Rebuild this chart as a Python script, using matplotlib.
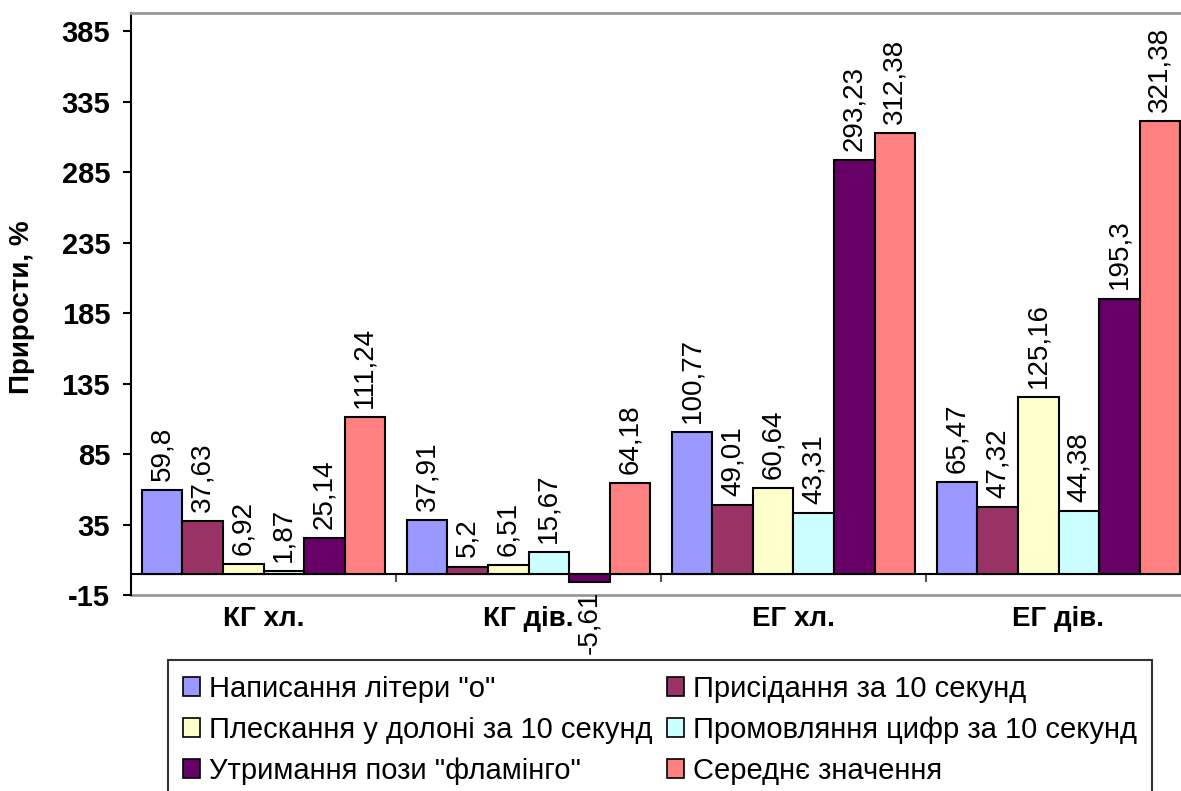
import matplotlib
matplotlib.use("Agg")
import matplotlib.pyplot as plt
from matplotlib.lines import Line2D
import numpy as np

plt.rcParams['font.family'] = ['Liberation Sans', 'DejaVu Sans']

categories = ["КГ хл.", "КГ дів.", "ЕГ хл.", "ЕГ дів."]
series_names = ['Написання літери "о"', 'Присідання за 10 секунд',
                'Плескання у долоні за 10 секунд', 'Промовляння цифр за 10 секунд',
                'Утримання пози "фламінго"', 'Середнє значення']
s_letter = [59.8, 37.91, 100.77, 65.47]
s_squat = [37.63, 5.2, 49.01, 47.32]
s_clap = [6.92, 6.51, 60.64, 125.16]
s_digits = [1.87, 15.67, 43.31, 44.38]
s_flamingo = [25.14, -5.61, 293.23, 195.3]
s_mean = [111.24, 64.18, 312.38, 321.38]
series = [s_letter, s_squat, s_clap, s_digits, s_flamingo, s_mean]
colors = ["#9999FF", "#993366", "#FFFFCC", "#CCFFFF", "#660066", "#FF8080"]
yticks = [-15, 35, 85, 135, 185, 235, 285, 335, 385]

W, H = 1181, 791
fig = plt.figure(figsize=(W / 100, H / 100), dpi=100)
left, right, top, bottom = 131, 1191, 13, 595
ax = fig.add_axes([left / W, 1 - bottom / H, (right - left) / W, (bottom - top) / H])

x = np.arange(len(categories))
bw = 0.153
handles = []
for i, (vals, c, name) in enumerate(zip(series, colors, series_names)):
    xs = x + (i - 2.5) * bw
    bars = ax.bar(xs, vals, bw, color=c, edgecolor="black", linewidth=1.5, label=name, zorder=3)
    handles.append(bars)
    for xi, v in zip(xs, vals):
        txt = f"{v:g}".replace(".", ",")
        if v >= 0:
            ax.annotate(txt, (xi, v), xytext=(0, 6.5), textcoords="offset points",
                        rotation=90, ha="center", va="bottom", fontsize=20)
        else:
            ax.annotate(txt, (xi, v), xytext=(0, -6.5), textcoords="offset points",
                        rotation=90, ha="center", va="top", fontsize=20)

ax.set_xlim(-0.5, 3.5)
ax.set_ylim(-15, 397.8)
ax.set_yticks(yticks)
ax.set_yticklabels([str(t) for t in yticks], fontsize=21, fontweight="bold")
ax.tick_params(axis="y", direction="out", length=6, width=1.5, pad=9)

# x axis at zero
ax.spines["bottom"].set_position(("data", 0))
ax.spines["bottom"].set_color("black")
ax.spines["bottom"].set_linewidth(1.5)
ax.set_xticks(x)
ax.set_xticklabels(categories, fontsize=20, fontweight="bold")
ax.set_xticks(np.arange(len(categories) + 1) - 0.5, minor=True)
ax.tick_params(axis="x", which="major", length=0, pad=23)
ax.tick_params(axis="x", which="minor", direction="out", length=6, width=1.5, color="#555555")

ax.spines["left"].set_linewidth(1.5)
ax.spines["top"].set_color("#999999")
ax.spines["top"].set_linewidth(2)
ax.spines["right"].set_visible(False)
ax.add_line(Line2D([0, 1], [0, 0], transform=ax.transAxes, color="#999999", lw=2, clip_on=False))

fig.text(22 / W, 1 - 307 / H, "Прирости, %", rotation=90, ha="center", va="center",
         fontsize=20, fontweight="bold")

order = [0, 2, 4, 1, 3, 5]
leg = fig.legend([handles[k] for k in order], [series_names[k] for k in order],
                 loc="upper left", bbox_to_anchor=(168 / W, 1 - 660 / H), ncol=2,
                 fontsize=21, frameon=True, fancybox=False, borderpad=0.5,
                 labelspacing=0.45, handlelength=0.6, handleheight=0.6,
                 handletextpad=0.3, columnspacing=0.5, borderaxespad=0)
leg.get_frame().set_edgecolor("black")
leg.get_frame().set_linewidth(1.5)
for h in leg.legend_handles:
    h.set_linewidth(1.2)

fig.savefig("out.png", dpi=100)
